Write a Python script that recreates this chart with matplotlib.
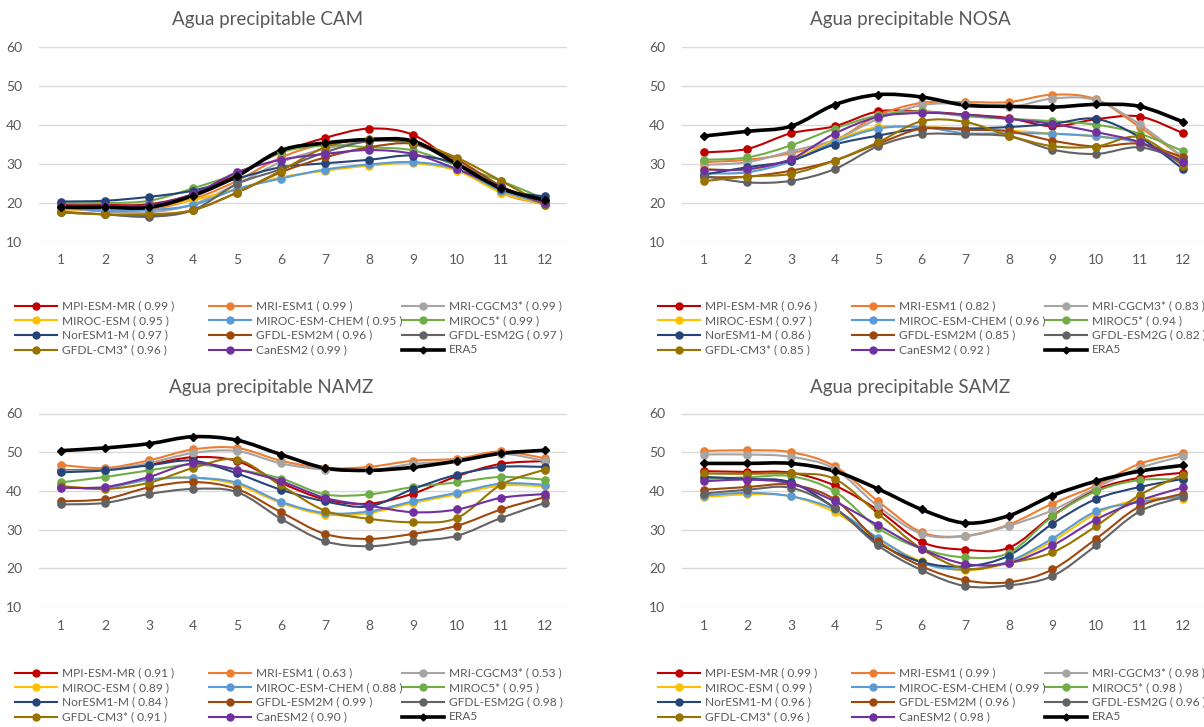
import numpy as np
import matplotlib
matplotlib.use("Agg")
import matplotlib.pyplot as plt
from matplotlib.path import Path
from matplotlib.patches import PathPatch
from matplotlib.lines import Line2D

plt.rcParams["font.family"] = ["Lato", "DejaVu Sans"]

MONTHS = list(range(1, 13))

MODELS = ["MPI-ESM-MR", "MRI-ESM1", "MRI-CGCM3*", "MIROC-ESM", "MIROC-ESM-CHEM",
          "MIROC5*", "NorESM1-M", "GFDL-ESM2M", "GFDL-ESM2G", "GFDL-CM3*",
          "CanESM2", "ERA5"]
COLORS = ["#C00000", "#ED7D31", "#A5A5A5", "#FFC000", "#5B9BD5", "#70AD47",
          "#264478", "#9E480E", "#636363", "#997300", "#7030A0", "#000000"]

# correlation with ERA5 shown in the legends (ERA5 itself has none)
CAM_R = [0.99, 0.99, 0.99, 0.95, 0.95, 0.99, 0.97, 0.96, 0.97, 0.96, 0.99]
NOSA_R = [0.96, 0.82, 0.83, 0.97, 0.96, 0.94, 0.86, 0.85, 0.82, 0.85, 0.92]
NAMZ_R = [0.91, 0.63, 0.53, 0.89, 0.88, 0.95, 0.84, 0.99, 0.98, 0.91, 0.90]
SAMZ_R = [0.99, 0.99, 0.98, 0.99, 0.99, 0.98, 0.96, 0.96, 0.96, 0.96, 0.98]

# monthly precipitable water, one row per model in MODELS order
CAM = [
    [19.4, 19.4, 19.6, 22.2, 27.4, 32.9, 36.6, 39.0, 37.4, 29.9, 23.5, 20.5],
    [18.3, 18.3, 18.3, 20.9, 25.6, 31.6, 35.1, 35.9, 35.5, 31.2, 22.6, 19.6],
    [18.8, 17.7, 17.5, 19.6, 24.8, 30.4, 33.8, 35.7, 35.5, 29.9, 23.1, 19.4],
    [18.3, 18.3, 18.8, 20.7, 23.5, 26.5, 28.2, 29.5, 30.1, 28.2, 22.6, 19.6],
    [18.8, 17.9, 18.1, 19.4, 23.5, 26.2, 28.5, 29.8, 30.4, 28.6, 23.1, 19.8],
    [19.9, 19.9, 20.5, 23.7, 27.5, 32.9, 34.7, 34.2, 33.4, 29.5, 25.6, 20.9],
    [20.3, 20.5, 21.5, 23.1, 26.2, 29.1, 30.1, 31.0, 32.1, 29.9, 23.5, 21.6],
    [17.7, 17.0, 16.6, 18.1, 22.6, 27.8, 31.6, 34.2, 35.1, 31.0, 24.3, 19.6],
    [17.5, 17.0, 16.4, 18.1, 24.8, 28.6, 32.9, 35.8, 35.1, 30.2, 23.9, 19.8],
    [17.5, 17.0, 17.0, 18.1, 22.6, 28.2, 34.2, 36.4, 35.3, 31.5, 25.6, 19.4],
    [19.2, 19.2, 19.4, 22.2, 27.8, 31.0, 32.5, 33.5, 32.5, 28.6, 23.9, 20.0],
    [18.8, 18.8, 18.8, 21.8, 26.8, 33.4, 35.3, 36.2, 35.8, 29.9, 23.7, 20.7],
]

NOSA = [
    [32.9, 33.8, 37.8, 39.6, 43.4, 43.4, 42.6, 41.7, 39.6, 41.4, 42.1, 37.8],
    [30.4, 31.0, 32.7, 35.9, 42.4, 45.6, 45.8, 45.8, 47.7, 46.5, 39.4, 31.6],
    [29.7, 30.4, 33.2, 36.1, 41.5, 45.0, 45.4, 44.5, 46.7, 46.3, 40.1, 31.6],
    [28.6, 28.4, 31.0, 35.9, 39.4, 39.4, 39.0, 38.5, 37.7, 37.0, 35.5, 31.2],
    [27.5, 27.8, 30.6, 35.5, 39.0, 39.4, 37.8, 37.8, 37.7, 37.0, 35.3, 29.9],
    [31.0, 31.6, 34.7, 39.0, 42.4, 43.4, 42.2, 41.5, 40.9, 40.0, 37.7, 33.2],
    [27.2, 29.1, 30.8, 34.9, 37.2, 39.0, 39.0, 39.4, 40.2, 41.5, 36.8, 28.6],
    [26.5, 26.7, 28.2, 30.8, 35.1, 39.0, 38.7, 38.3, 35.9, 34.4, 35.1, 31.6],
    [26.9, 25.2, 25.6, 28.6, 34.5, 37.5, 37.5, 37.0, 33.6, 32.5, 34.2, 30.8],
    [25.5, 26.7, 27.4, 30.8, 35.5, 40.9, 40.7, 37.2, 34.5, 34.4, 36.8, 29.5],
    [28.5, 28.6, 31.2, 37.7, 42.0, 43.0, 42.6, 41.5, 40.2, 38.1, 35.5, 30.4],
    [37.1, 38.3, 39.6, 45.1, 47.7, 47.1, 45.0, 44.7, 44.5, 45.2, 44.7, 40.7],
]

NAMZ = [
    [45.3, 45.5, 46.8, 48.7, 47.7, 42.1, 37.8, 36.7, 39.3, 43.8, 47.0, 47.7],
    [46.7, 45.9, 47.9, 50.7, 51.1, 47.8, 45.9, 46.2, 47.8, 48.3, 50.2, 48.4],
    [45.1, 45.5, 47.2, 49.8, 50.3, 47.1, 45.5, 45.3, 47.0, 47.7, 49.6, 47.7],
    [41.2, 40.8, 42.9, 43.4, 41.6, 36.9, 33.9, 34.3, 36.9, 39.1, 41.4, 41.2],
    [40.9, 40.8, 42.9, 43.4, 42.1, 37.2, 34.3, 34.7, 37.3, 39.5, 41.9, 41.6],
    [42.2, 43.6, 45.3, 46.8, 45.5, 43.2, 39.1, 39.1, 41.0, 42.2, 43.6, 42.9],
    [44.8, 45.3, 46.6, 47.8, 44.5, 40.3, 37.3, 36.0, 40.5, 44.2, 46.2, 46.2],
    [37.3, 37.9, 40.9, 42.3, 40.5, 34.5, 28.9, 27.6, 28.9, 31.0, 35.2, 38.4],
    [36.5, 36.9, 39.2, 40.5, 39.7, 32.8, 27.0, 25.7, 27.0, 28.4, 33.0, 36.9],
    [41.2, 40.5, 42.1, 45.9, 48.1, 41.4, 34.9, 32.8, 31.9, 33.0, 41.6, 45.5],
    [40.8, 41.0, 43.6, 47.1, 45.5, 42.5, 38.2, 36.2, 34.5, 35.2, 38.2, 39.2],
    [50.4, 51.1, 52.2, 54.0, 53.1, 49.4, 45.9, 45.3, 46.1, 47.7, 49.7, 50.5],
]

SAMZ = [
    [45.1, 44.9, 44.7, 41.4, 35.0, 26.8, 24.8, 25.3, 33.6, 40.3, 43.4, 44.7],
    [50.3, 50.5, 50.0, 46.4, 37.3, 29.3, 28.4, 31.3, 36.7, 41.4, 47.0, 49.7],
    [49.4, 49.4, 48.8, 45.7, 36.0, 28.9, 28.3, 31.0, 35.0, 40.8, 45.9, 49.0],
    [38.4, 39.1, 38.6, 34.5, 27.4, 21.8, 19.5, 21.6, 27.0, 34.1, 37.8, 37.9],
    [38.8, 39.5, 38.6, 35.2, 27.8, 21.4, 19.7, 21.8, 27.7, 34.7, 37.1, 38.6],
    [43.1, 43.5, 43.8, 39.9, 30.4, 25.1, 22.8, 24.0, 33.4, 39.9, 42.8, 42.9],
    [43.6, 43.1, 42.2, 35.6, 26.6, 21.6, 20.5, 23.3, 31.5, 37.9, 41.0, 43.1],
    [40.3, 41.0, 41.6, 37.8, 27.0, 20.5, 16.9, 16.4, 19.7, 27.6, 36.0, 39.3],
    [39.3, 40.3, 40.8, 35.6, 25.9, 19.5, 15.4, 15.6, 18.0, 25.9, 34.7, 38.4],
    [44.5, 44.4, 44.5, 43.1, 34.1, 25.0, 19.9, 21.4, 24.1, 30.9, 38.9, 44.2],
    [42.5, 42.9, 41.9, 37.3, 31.1, 25.0, 21.1, 21.4, 25.9, 32.6, 37.5, 40.9],
    [47.1, 47.1, 47.1, 45.1, 40.5, 35.2, 31.7, 33.6, 38.8, 42.5, 45.1, 46.6],
]

W, H = 1204, 727
TEXT = "#595959"


def smooth_line(ax, x, y, color, lw):
    # Excel-style smoothed line: cubic bezier segments through the points
    pts = np.column_stack([x, y]).astype(float)
    n = len(pts)
    verts = [pts[0]]
    codes = [Path.MOVETO]
    for i in range(n - 1):
        p0 = pts[i - 1] if i > 0 else pts[i]
        p1, p2 = pts[i], pts[i + 1]
        p3 = pts[i + 2] if i + 2 < n else pts[i + 1]
        verts += [p1 + (p2 - p0) / 6, p2 - (p3 - p1) / 6, p2]
        codes += [Path.CURVE4] * 3
    ax.add_patch(PathPatch(Path(verts, codes), fill=False, edgecolor=color,
                           lw=lw, capstyle="round", joinstyle="round"))


def panel(left, top, right, bottom, title, title_xy, data, corr, leg_x, leg_y):
    ax = fig.add_axes([left / W, 1 - bottom / H, (right - left) / W, (bottom - top) / H])
    for k, vals in enumerate(data):
        era = MODELS[k] == "ERA5"
        lw = 2.6 if era else 1.5
        smooth_line(ax, MONTHS, vals, COLORS[k], lw)
        ax.plot(MONTHS, vals, ls="none", marker="D" if era else "o",
                ms=4.5 if era else 5.2, color=COLORS[k], zorder=3 + k * 0.01)
    ax.set_xlim(0.5, 12.5)
    ax.set_ylim(10, 60)
    ax.set_xticks(MONTHS)
    ax.set_yticks(range(10, 61, 10))
    ax.grid(axis="y", color="#D9D9D9", lw=1)
    ax.set_axisbelow(True)
    for s in ax.spines.values():
        s.set_visible(False)
    ax.tick_params(length=0, labelsize=10, colors=TEXT)
    ax.tick_params(axis="y", pad=12)
    ax.tick_params(axis="x", pad=9)
    fig.text(title_xy[0] / W, 1 - title_xy[1] / H, title, ha="center", va="center",
             fontsize=13.5, color=TEXT)

    # legend laid out row by row like the original
    for k, name in enumerate(MODELS):
        row, col = divmod(k, 3)
        x0 = leg_x[col]
        y0 = 1 - (leg_y + row * 14.8) / H
        label = name if name == "ERA5" else f"{name} ( {corr[k]:.2f} )"
        era = name == "ERA5"
        fig.add_artist(Line2D([x0 / W, (x0 + 42) / W], [y0, y0], color=COLORS[k],
                              lw=2.6 if era else 1.5))
        fig.add_artist(Line2D([(x0 + 21) / W], [y0], marker="D" if era else "o",
                              ms=3.5 if era else 5, color=COLORS[k]))
        fig.text((x0 + 47) / W, y0, label, ha="left", va="center", fontsize=8.6,
                 color=TEXT)
    return ax


fig = plt.figure(figsize=(W / 100, H / 100), dpi=100)
fig.patch.set_facecolor("white")

left_cols = [15, 209, 402]
right_cols = [658, 852, 1045]

panel(39, 46.7, 567, 241.7, "Agua precipitable CAM", (268, 20), CAM, CAM_R,
      left_cols, 305.5)
panel(682, 46.7, 1205, 241.7, "Agua precipitable NOSA", (910, 20), NOSA, NOSA_R,
      right_cols, 305.5)
panel(39, 413.5, 567, 607, "Agua precipitable NAMZ", (271, 388), NAMZ, NAMZ_R,
      left_cols, 672.5)
panel(682, 413.5, 1205, 607, "Agua precipitable SAMZ", (910, 388), SAMZ, SAMZ_R,
      right_cols, 672.5)

fig.savefig("out.png", dpi=100, facecolor="white")
